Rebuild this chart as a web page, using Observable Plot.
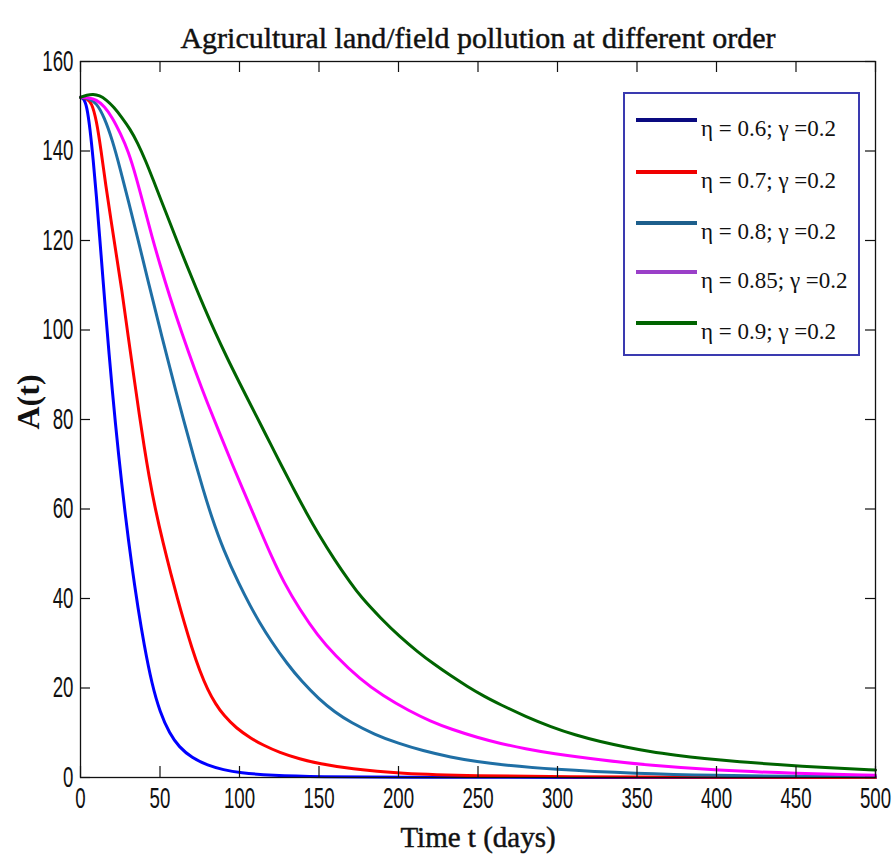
<!DOCTYPE html>
<html>
<head>
<meta charset="utf-8">
<script src="https://cdn.jsdelivr.net/npm/d3@7"></script>
<script src="https://cdn.jsdelivr.net/npm/@observablehq/plot@0.6"></script>
<style>
  body { margin: 0; background: #fff; }
  #wrap { position: relative; width: 896px; height: 868px; }
  #legend { position: absolute; left: 623px; top: 92px; width: 233px; height: 260px;
            border: 2px solid #3a3ab0; background: #fff;
            font-family: 'Liberation Serif', 'DejaVu Serif', serif; font-size: 23px; color: #111; }
  .row { position: absolute; left: 11px; height: 22px; white-space: nowrap; }
  .sw { position: absolute; left: 0; width: 61px; height: 4px; }
  .lbl { position: absolute; left: 65px; top: 0px; line-height: 22px; }
</style>
</head>
<body>
<div id="wrap"></div>
<script>
// ---- data ----
const seriesNames = ["η = 0.6; γ =0.2", "η = 0.7; γ =0.2", "η = 0.8; γ =0.2", "η = 0.85; γ =0.2", "η = 0.9; γ =0.2"];
const seriesColors = ["#0000ff", "#ff0000", "#1f6fa5", "#ff00ff", "#006400"];
const legendColors = ["#0a0a80", "#f00000", "#1d5f8c", "#9a3fc8", "#006400"];

const tBlue = [0,2,4,6,8,10,12,14,16,18,20,22,24,26,28,30,33,36,40,45,50,56,62,70,80,90,100,120,150,200,300,500];
const vBlue = [152,151.8,150,145,138,130,121,112,103,94.5,86.5,79,72,65.5,59.3,53.5,45.5,38.2,29.6,20.7,14.6,9.8,6.8,4.4,2.7,1.7,1.05,0.45,0.15,0.05,0,0];

const tRed = [0,4,7,10,13,16,19,22,26,30,34,37,40,43,47,52,57,61,65,70,75,80,85,90,98,107,115,125,138,150,170,200,250,300,400,500];
const vRed = [152,151.8,150.8,147,140,132,125,118,109,98.5,88.5,81,74,67.5,60,52.3,45.3,40,34.9,29,23.8,19.6,16.4,13.9,11,8.8,7.2,5.6,4.1,3.1,1.9,0.9,0.35,0.15,0.05,0];

const tTeal = [0,5,10,15,20,25,30,36,43,50,57,65,72,77,82,90,100,107,112,120,130,139,150,160,170,185,200,215,233,250,264,296,350,400,450,500];
const vTeal = [152,151.8,150.8,147.5,142.5,136,129,120.5,110.2,100.2,90.4,79.6,70.6,64.5,58.7,50.7,43,38.2,35,30.4,25.4,21.5,17.5,14.6,12.3,9.6,7.6,6,4.5,3.5,2.85,1.8,0.85,0.45,0.25,0.15];

const tMagenta = [0,5,10,15,20,25,30,35,40,45,50,56,64,72,80,88,96,102,108,113,120,128,138,149,160,176,190,207,220,233,250,264,280,296,327,358,400,450,500];
const vMagenta = [152,151.9,151.5,150,147.5,144,140,134.2,127.5,120.8,114.6,107.6,99,91,83.5,76.5,69.5,64.5,59.5,55.3,49.5,43.5,37.5,31.8,27.3,21.9,18.3,14.8,12.6,10.8,8.9,7.6,6.4,5.4,3.9,2.7,1.6,0.9,0.5];

const tGreen = [0,4,8,12,16,21,26,31,36,41,46,51,56,61,67,73,78,84,92,100,107,113,120,126,134,142,149,160,170,176,189,201,212,222,233,243,254,264,280,296,311,327,343,358,375,390,420,447,475,500];
const vGreen = [152,152.5,152.7,152.4,151.5,149.8,147.5,145,141.8,137.8,133.3,128.7,124.2,119.6,114.3,109.1,104.9,100,93.9,88.2,83.3,79.1,74.2,70,64.5,59.2,54.8,48.5,43.4,40.5,35.5,31.4,28.1,25.4,22.7,20.4,18.1,16.3,13.6,11.3,9.5,8,6.8,5.8,4.95,4.3,3.35,2.65,2.1,1.65];

const xTicks = [0,50,100,150,200,250,300,350,400,450,500];
const yTicks = [0,20,40,60,80,100,120,140,160];

const titleText = "Agricultural land/field pollution at different order";
const xLabel = "Time t (days)";
const yLabel = "A(t)";

// ---- build table ----
const seriesT = [tBlue, tRed, tTeal, tMagenta, tGreen];
const seriesV = [vBlue, vRed, vTeal, vMagenta, vGreen];
const rows = [];
seriesT.forEach((ts, k) => ts.forEach((t, i) => rows.push({t, v: seriesV[k][i], s: seriesNames[k]})));

const W = 896, H = 868, mL = 80, mR = 21, mT = 61, mB = 91;
const fw = W - mL - mR, fh = H - mT - mB;
const tick = 11;
const serif = "'Liberation Serif', 'DejaVu Serif', serif";

const plot = Plot.plot({
  width: W, height: H,
  marginLeft: mL, marginRight: mR, marginTop: mT, marginBottom: mB,
  x: {domain: [0, 500]},
  y: {domain: [0, 160]},
  color: {domain: seriesNames, range: seriesColors},
  style: {fontFamily: "'Liberation Sans', Arial, sans-serif", fontSize: "29px", background: "#fff", color: "#111"},
  marks: [
    Plot.line(rows, {x: "t", y: "v", z: "s", stroke: "s", strokeWidth: 3, curve: "basis"}),
    Plot.frame({stroke: "#111", strokeWidth: 1.3}),
    Plot.tickX(xTicks, {x: d => d, insetTop: fh - tick, stroke: "#111", strokeWidth: 1.2}),
    Plot.tickX(xTicks, {x: d => d, insetBottom: fh - tick, stroke: "#111", strokeWidth: 1.2}),
    Plot.tickY(yTicks, {y: d => d, insetRight: fw - 10, stroke: "#111", strokeWidth: 1.2}),
    Plot.tickY(yTicks, {y: d => d, insetLeft: fw - 10, stroke: "#111", strokeWidth: 1.2}),
    Plot.axisX({ticks: xTicks, tickSize: 0, tickPadding: 10, fontSize: 29, label: null, tickFormat: d => String(d)}),
    Plot.axisY({ticks: yTicks, tickSize: 0, tickPadding: 7, fontSize: 29, label: null, tickFormat: d => String(d)}),
    Plot.text([titleText], {frameAnchor: "top", dy: -34.6, fontSize: 30, fontFamily: serif, fill: "#111", stroke: "#111", strokeWidth: 0.45}),
    Plot.text([xLabel], {frameAnchor: "bottom", dy: 69.5, fontSize: 29, fontFamily: serif, fill: "#111", stroke: "#111", strokeWidth: 0.45}),
    Plot.text([yLabel], {frameAnchor: "left", rotate: -90, dx: -52, dy: 10, fontSize: 32, fontWeight: "bold", fontFamily: serif, fill: "#111"})
  ]
});

const wrap = document.getElementById("wrap");
wrap.appendChild(plot);

// condense tick label digits horizontally (MATLAB-like narrow digits)
d3.select(plot).selectAll('g[aria-label="x-axis tick label"] text, g[aria-label="y-axis tick label"] text').each(function() {
  const w = this.getBBox().width;
  const n = this.textContent.length;
  if (!w) return;
  const sx = (10.4 * n) / w;
  const tr = this.getAttribute("transform");
  if (tr) this.setAttribute("transform", tr + ` scale(${sx},1)`);
  else {
    const x = parseFloat(this.getAttribute("x")) || 0;
    this.setAttribute("transform", `translate(${x * (1 - sx)},0) scale(${sx},1)`);
  }
});

// legend
const legend = document.createElement("div");
legend.id = "legend";
const rowTops = [26, 78, 129, 178, 229];
seriesNames.forEach((name, i) => {
  const r = document.createElement("div");
  r.className = "row";
  r.style.top = (rowTops[i] - 2) + "px";
  const sw = document.createElement("div");
  sw.className = "sw";
  sw.style.background = legendColors[i];
  const lb = document.createElement("div");
  lb.className = "lbl";
  lb.textContent = name;
  r.appendChild(sw); r.appendChild(lb);
  legend.appendChild(r);
});
wrap.appendChild(legend);
</script>
</body>
</html>
